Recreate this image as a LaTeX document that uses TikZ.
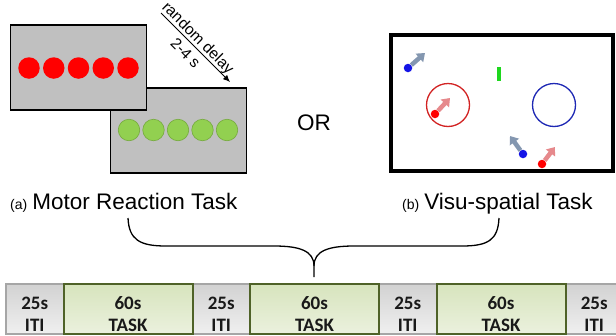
\documentclass[tikz,border=0pt]{standalone}
\usepackage{fontspec}
\setmainfont{Liberation Sans}
\newfontfamily\barfont{Carlito}
\usepackage{tikz}
\usetikzlibrary{positioning,arrows.meta}
\definecolor{screengray}{RGB}{192,192,192}
\definecolor{dotgreen}{RGB}{146,208,80}
\definecolor{dotgreenrim}{RGB}{118,170,62}
\definecolor{dotblue}{RGB}{20,20,230}
\definecolor{ringred}{RGB}{210,35,35}
\definecolor{ringblue}{RGB}{30,40,180}
\definecolor{arrowblue}{RGB}{132,151,176}
\definecolor{arrowred}{RGB}{230,137,140}
\definecolor{cuegreen}{RGB}{30,215,30}
\definecolor{itiedge}{RGB}{166,166,166}
\definecolor{ititop}{RGB}{210,210,210}
\definecolor{itibottom}{RGB}{240,240,240}
\definecolor{taskedge}{RGB}{79,98,40}
\definecolor{tasktop}{RGB}{215,228,189}
\definecolor{taskbottom}{RGB}{235,241,222}

\begin{document}
\begin{tikzpicture}[x = 1pt, y = -1pt,
    screen/.style = {draw, line width = 1.8pt, minimum width = 136pt, minimum height = 85pt, inner sep = 0pt},
    bigdot/.style = {circle, inner sep = 0pt, minimum size = 21.5pt},
    smalldot/.style = {circle, inner sep = 0pt, minimum size = 8.5pt},
    ring/.style = {circle, draw, line width = 1.3pt, minimum size = 43pt, inner sep = 0pt},
    move/.style = {line width = 4.5pt, -{Triangle[length = 7.5pt, width = 11pt]}},
    title/.style = {anchor = base west, inner sep = 0pt, font = \fontsize{22.5}{26}\selectfont},
    iti/.style = {draw = itiedge, line width = 1.2pt, top color = ititop, bottom color = itibottom,
        minimum width = 57.5pt, minimum height = 50pt, inner sep = 0pt, outer sep = 0pt, align = center,
        text height = 44pt, text depth = 0pt, text = black!90, font = \barfont\bfseries\fontsize{19}{22}\selectfont},
    task/.style = {iti, draw = taskedge, line width = 2pt, top color = tasktop, bottom color = taskbottom, minimum width = 129pt}]
    \path[use as bounding box, fill = white] (0,0) rectangle (616,335);
    \clip (0,0) rectangle (616,335);

    \node[screen, fill = screengray] (late) at (178.5,130.5) {};
    \node[screen, fill = screengray] (early) at (78.5,67.5) {};
    \foreach \i in {0,...,4} \node[bigdot, fill = red] (stop\i) at (29 + 24.75*\i, 68) {};
    \foreach \i in {0,...,4} \node[bigdot, fill = dotgreen, draw = dotgreenrim, line width = .6pt] (go\i) at (129 + 24.5*\i, 130) {};
    \coordinate (delaystart) at (161,13);
    \coordinate (delayend) at (230,82);
    \draw[-{Latex[length = 7pt, width = 6pt]}, line width = .9pt] (delaystart) -- (delayend)
        node[pos = .45, sloped, above = 0pt, inner sep = 0pt, font = \fontsize{15.5}{17}\selectfont] (delaytext) {random delay}
        node[pos = .47, sloped, below = 5pt, inner sep = 0pt, font = \fontsize{15.5}{17}\selectfont] (delayrange) {2-4 s};

    \node[font = \fontsize{22.5}{26}\selectfont] (or) at (314,123) {OR};

    \node[draw, line width = 3.5pt, minimum width = 222pt, minimum height = 136pt, inner sep = 0pt] (arena) at (502,103) {};
    \node[fill = cuegreen, minimum width = 3.5pt, minimum height = 14pt, inner sep = 0pt] (cue) at (499,74) {};
    \node[ring, draw = ringred] (redgoal) at (448,105) {};
    \node[ring, draw = ringblue] (bluegoal) at (554,105) {};
    \node[smalldot, fill = dotblue] (blueA) at (408,68) {};
    \node[smalldot, fill = red] (redA) at (435,114) {};
    \node[smalldot, fill = dotblue] (blueB) at (523,154) {};
    \node[smalldot, fill = red] (redB) at (542,164) {};
    \coordinate (blueAhead) at (425,53);
    \coordinate (redAhead) at (450,98);
    \coordinate (blueBhead) at (510,136);
    \coordinate (redBhead) at (555,147);
    \draw[move, arrowblue] (blueA) -- (blueAhead);
    \draw[move, arrowred] (redA) -- (redAhead);
    \draw[move, arrowblue] (blueB) -- (blueBhead);
    \draw[move, arrowred] (redB) -- (redBhead);

    \node[title] (motor) at (10,209) {{\fontsize{14}{16}\selectfont (a)}\hspace{5pt}Motor Reaction Task};
    \node[title] (visu) at (402,209) {{\fontsize{14}{16}\selectfont (b)}\hspace{5pt}Visu-spatial Task};

    \coordinate (braceleft) at (128,218);
    \coordinate (braceright) at (499,218);
    \coordinate (bracetip) at (314,277);
    \draw[line width = 1.3pt] (braceleft) .. controls (129,240) and (140,246) .. (166,246) -- (274,246)
        .. controls (300,246) and (314,251) .. (314,266) -- (bracetip);
    \draw[line width = 1.3pt] (314,266) .. controls (314,251) and (328,246) .. (354,246) -- (462,246)
        .. controls (488,246) and (498,240) .. (braceright);

    \foreach \x [count = \i] in {34.75, 221.25, 407.75, 594.25} \node[iti] (iti\i) at (\x, 309) {25s\\ITI};
    \foreach \x [count = \i] in {128, 314.5, 501} \node[task] (task\i) at (\x, 309) {60s\\TASK};
\end{tikzpicture}
\end{document}
